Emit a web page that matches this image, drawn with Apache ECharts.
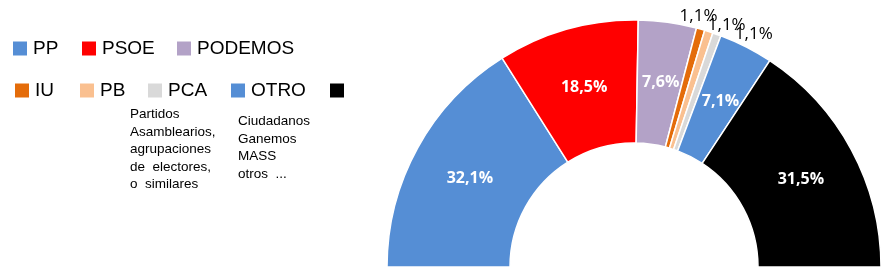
<!DOCTYPE html>
<html>
<head>
<meta charset="utf-8">
<script src="https://cdn.jsdelivr.net/npm/echarts@6/dist/echarts.min.js"></script>
<style>html,body{margin:0;padding:0;background:#fff}#c{width:887px;height:271px}</style>
</head>
<body>
<div id="c"></div>
<script>
// ---- data ----
const parties = ['PP', 'PSOE', 'PODEMOS', 'IU', 'PB', 'PCA', 'OTRO', 'NS/NC'];
const shares  = [32.1, 18.5, 7.6, 1.1, 1.1, 1.1, 7.1, 31.5];
const valueLabels = ['32,1%', '18,5%', '7,6%', '1,1%', '1,1%', '1,1%', '7,1%', '31,5%'];
const noteA = ['Partidos', 'Asamblearios,', 'agrupaciones', 'de  electores,', 'o  similares'];
const noteB = ['Ciudadanos', 'Ganemos', 'MASS', 'otros  ...'];

// ---- styles / layout ----
const colors = ['#558ED5', '#FF0000', '#B3A2C7', '#E46C0A', '#FAC090', '#D9D9D9', '#558ED5', '#000000'];
const smallLabelOffsets = { 3: [-21, -13], 4: [-1, -6], 5: [18, 0] };
const legendPos = [
  [13, 39], [82, 39], [177, 39],
  [15, 81], [80, 81], [148, 81], [231, 81], [330, 81]
];

const chart = echarts.init(document.getElementById('c'), null, { renderer: 'canvas' });

const legends = parties.map((p, i) => ({
  data: [p],
  left: legendPos[i][0],
  top: legendPos[i][1],
  padding: 0,
  icon: 'rect',
  itemWidth: 14,
  itemHeight: 14,
  itemStyle: { borderWidth: 0 },
  selectedMode: false,
  textStyle: Object.assign(
    { fontFamily: 'Liberation Sans', fontSize: 19, color: '#000', padding: [0, 0, 0, 1] },
    i === parties.length - 1 ? { width: 14, overflow: 'truncate', ellipsis: '' } : {}
  )
}));

const data = parties.map((p, i) => {
  const small = smallLabelOffsets[i];
  return {
    name: p,
    value: shares[i],
    itemStyle: { color: colors[i] },
    label: small ? {
      position: 'outside',
      offset: small,
      color: '#000',
      fontWeight: 'normal',
      fontSize: 17,
      distanceToLabelLine: 0
    } : {
      position: 'inside',
      color: '#fff',
      fontWeight: 'bold',
      fontSize: 16,
      offset: [1, 2]
    },
    labelLine: { show: false, length: 0, length2: 0 }
  };
});

const noteText = (lines, x, y) => ({
  type: 'text',
  left: x,
  top: y,
  style: {
    text: lines.join('\n'),
    fontFamily: 'Liberation Sans',
    fontSize: 13.5,
    lineHeight: 17.5,
    fill: '#000'
  }
});

chart.setOption({
  animation: false,
  legend: legends,
  series: [{
    type: 'pie',
    center: [634, 267],
    radius: [124, 247],
    startAngle: 180,
    endAngle: 0,
    clockwise: true,
    avoidLabelOverlap: false,
    labelLayout: { hideOverlap: false },
    silent: true,
    itemStyle: { borderColor: '#fff', borderWidth: 1.5 },
    label: {
      show: true,
      fontFamily: 'Open Sans',
      formatter: (p) => valueLabels[p.dataIndex]
    },
    data: data
  }],
  graphic: [
    noteText(noteA, 130, 106),
    noteText(noteB, 238, 113),
    { type: 'rect', shape: { x: 353, y: 72, width: 33, height: 32 }, style: { fill: '#fff' }, z: 100 }
  ]
});
</script>
</body>
</html>
